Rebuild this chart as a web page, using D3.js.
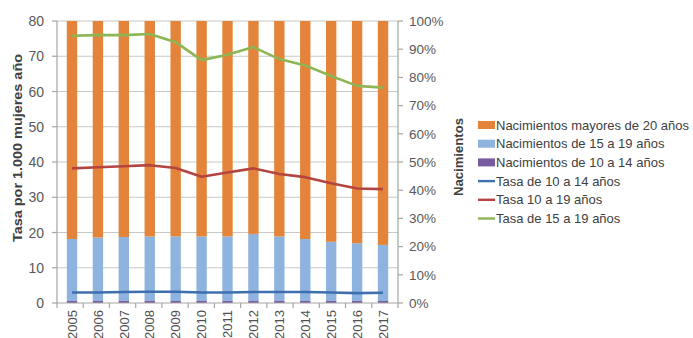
<!DOCTYPE html>
<html><head><meta charset="utf-8">
<script src="https://cdn.jsdelivr.net/npm/d3@7"></script>
<style>body{margin:0;background:#fff}svg{display:block}text{font-family:"Liberation Sans",Arial,sans-serif}</style>
</head><body><svg id="c" width="693" height="338"></svg>
<script>
const years = ["2005","2006","2007","2008","2009","2010","2011","2012","2013","2014","2015","2016","2017"];
// Bars: % of births (right axis)
const nac10a14 = [0.7,0.7,0.7,0.7,0.7,0.7,0.7,0.7,0.7,0.7,0.7,0.7,0.7];
const nac15a19 = [22.0,22.5,22.7,22.9,22.9,22.9,22.9,23.8,22.9,22.0,21.0,20.5,19.9];
const nacMayores20 = years.map((d,i)=> +(100 - nac10a14[i] - nac15a19[i]).toFixed(1));
// Lines: rate per 1,000 women (left axis)
const tasa10a14 = [3.0,3.0,3.1,3.2,3.2,3.0,3.0,3.1,3.1,3.1,3.0,2.8,2.9];
const tasa10a19 = [38.2,38.5,38.8,39.1,38.3,35.8,37.0,38.2,36.6,35.7,34.0,32.5,32.3];
const tasa15a19 = [75.8,76.0,76.0,76.3,74.0,68.9,70.4,72.6,69.2,67.4,64.4,61.6,61.1];
const leftTicks = [0,10,20,30,40,50,60,70,80];
const rightTicks = [0,10,20,30,40,50,60,70,80,90,100];

const C = {orange:"#E3843A", lblue:"#8FB3DF", purple:"#7A5A9E", blue:"#3E6FAE", red:"#B4443F", green:"#8DB553"};
const svg = d3.select("#c");
const L = 57, R = 398, T = 21, B = 303;
const x = d3.scaleBand().domain(years).range([L,R]).paddingInner(0.6).paddingOuter(0.378);
const yL = d3.scaleLinear().domain([0,80]).range([B,T]);
const yR = d3.scaleLinear().domain([0,100]).range([B,T]);

// gridlines
svg.append("g").selectAll("line").data(leftTicks.slice(1)).join("line")
  .attr("x1",L).attr("x2",R).attr("y1",d=>yL(d)).attr("y2",d=>yL(d))
  .attr("stroke","#c8c8c8").attr("stroke-width",1.2);

// bars
const rows = years.map((y,i)=>({year:y, a:nac10a14[i], b:nac15a19[i], c:nacMayores20[i]}));
const stack = d3.stack().keys(["a","b","c"])(rows);
const cols = {a:C.purple,b:C.lblue,c:C.orange};
svg.append("g").selectAll("g").data(stack).join("g").attr("fill",d=>cols[d.key])
  .selectAll("rect").data(d=>d).join("rect")
  .attr("x",d=>x(d.data.year)).attr("width",x.bandwidth())
  .attr("y",d=>yR(d[1])).attr("height",d=>yR(d[0])-yR(d[1]));

// axes
const ax = svg.append("g").attr("stroke","#a6a6a6").attr("stroke-width",1.2);
ax.append("line").attr("x1",L).attr("x2",L).attr("y1",T).attr("y2",B);
ax.append("line").attr("x1",R).attr("x2",R).attr("y1",T).attr("y2",B);
ax.append("line").attr("x1",L).attr("x2",R).attr("y1",B).attr("y2",B);
ax.selectAll(".lt").data(leftTicks).join("line").attr("x1",L-5).attr("x2",L).attr("y1",d=>yL(d)).attr("y2",d=>yL(d));
ax.selectAll(".rt").data(rightTicks).join("line").attr("class","rt").attr("x1",R).attr("x2",R+5).attr("y1",d=>yR(d)).attr("y2",d=>yR(d));
ax.selectAll(".xt").data(d3.range(years.length+1)).join("line").attr("class","xt")
  .attr("x1",i=>L+i*(R-L)/years.length).attr("x2",i=>L+i*(R-L)/years.length).attr("y1",B).attr("y2",B+5);

// tick labels
svg.append("g").selectAll("text").data(leftTicks).join("text")
  .attr("x",44).attr("y",d=>yL(d)).attr("dy","0.36em").attr("text-anchor","end")
  .attr("font-size",14).attr("fill","#595959").text(d=>d);
svg.append("g").selectAll("text").data(rightTicks).join("text")
  .attr("x",409).attr("y",d=>yR(d)).attr("dy","0.36em")
  .attr("font-size",13.5).attr("fill","#595959").text(d=>d+"%");
svg.append("g").selectAll("text").data(years).join("text")
  .attr("transform",d=>`translate(${x(d)+x.bandwidth()/2},310) rotate(-90)`)
  .attr("dy","0.36em").attr("text-anchor","end")
  .attr("font-size",13).attr("fill","#505050").text(d=>d);

// lines
const line = ys => d3.line().x((d,i)=>x(years[i])+x.bandwidth()/2).y(d=>yL(d))(ys);
[[tasa10a14,C.blue],[tasa10a19,C.red],[tasa15a19,C.green]].forEach(([s,c])=>{
  svg.append("path").attr("d",line(s)).attr("fill","none").attr("stroke",c).attr("stroke-width",2.6).attr("stroke-linejoin","round");
});

// axis titles
svg.append("text").attr("transform","translate(22,148) rotate(-90)").attr("text-anchor","middle")
  .attr("font-size",13).attr("font-weight","bold").attr("fill","#404040").attr("textLength",188).attr("lengthAdjust","spacingAndGlyphs")
  .text("Tasa por 1.000 mujeres año");
svg.append("text").attr("transform","translate(458,157) rotate(-90)").attr("text-anchor","middle").attr("dy","0.36em")
  .attr("font-size",13).attr("font-weight","bold").attr("fill","#404040").attr("textLength",78).attr("lengthAdjust","spacingAndGlyphs")
  .text("Nacimientos");

// legend
const leg = [
  {t:"Nacimientos mayores de 20 años",c:C.orange,type:"rect"},
  {t:"Nacimientos de 15 a 19 años",c:C.lblue,type:"rect"},
  {t:"Nacimientos de 10 a 14 años",c:C.purple,type:"rect"},
  {t:"Tasa de 10 a 14 años",c:C.blue,type:"line"},
  {t:"Tasa 10 a 19 años",c:C.red,type:"line"},
  {t:"Tasa de 15 a 19 años",c:C.green,type:"line"}];
const lg = svg.append("g").selectAll("g").data(leg).join("g").attr("transform",(d,i)=>`translate(478,${125+i*18.7})`);
lg.filter(d=>d.type==="rect").append("rect").attr("x",0).attr("y",-4).attr("width",17).attr("height",8).attr("fill",d=>d.c);
lg.filter(d=>d.type==="line").append("line").attr("x1",0).attr("x2",17).attr("y1",0).attr("y2",0).attr("stroke",d=>d.c).attr("stroke-width",2.4);
lg.append("text").attr("x",18).attr("dy","0.36em").attr("font-size",13).attr("fill","#404040").text(d=>d.t);
</script></body></html>
